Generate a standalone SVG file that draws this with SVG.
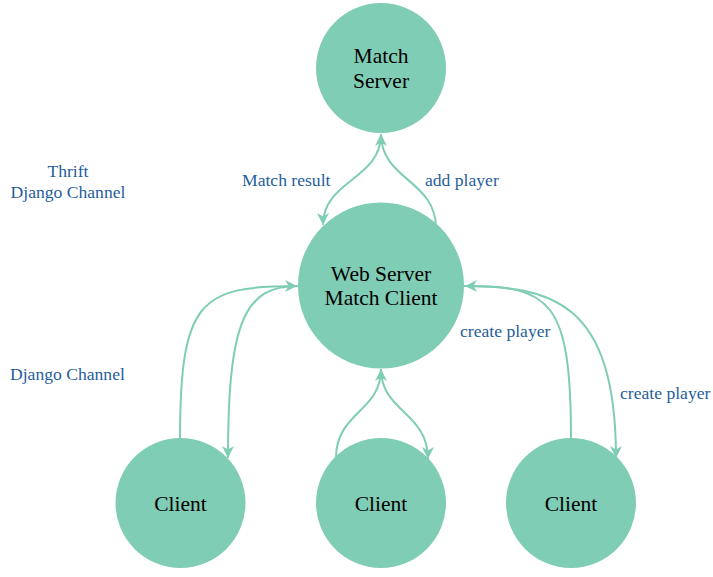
<svg xmlns="http://www.w3.org/2000/svg" width="713" height="577" viewBox="0 0 713 577">
<style>
.node{fill:#80cdb6;}
.ntext{font-family:'Liberation Serif','Times New Roman',serif;font-size:21.5px;fill:#000;text-anchor:middle;}
.link{fill:none;stroke:#80cdb6;stroke-width:2;}
.lbl{font-family:'Liberation Serif','Times New Roman',serif;font-size:17.6px;fill:#1f5e9c;}
</style>
<defs>
<marker id="arrow" viewBox="0 -5 10 10" refX="10" refY="0" markerWidth="12" markerHeight="12" markerUnits="userSpaceOnUse" orient="auto">
<path d="M0,-5L10,0L0,5L3,0Z" fill="#80cdb6"/>
</marker>
</defs>
<rect width="713" height="577" fill="#fff"/>
<g id="connectors">
<path class="link" d="M436,228 C436,180 381,180 381,134" marker-end="url(#arrow)"/>
<path class="link" d="M381,134 C381,180 323,180 323,225" marker-end="url(#arrow)"/>
<path class="link" d="M180,440 C180,300 200,286 297,286" marker-end="url(#arrow)"/>
<path class="link" d="M298,286 C245,286 228,320 228,458" marker-end="url(#arrow)"/>
<path class="link" d="M336,458 C336,412 381,412 381,369" marker-end="url(#arrow)"/>
<path class="link" d="M381,369 C381,412 428,412 428,459" marker-end="url(#arrow)"/>
<path class="link" d="M571,440 C571,300 551,286 465,286" marker-end="url(#arrow)"/>
<path class="link" d="M464,286 C550,286 616,300 616,458" marker-end="url(#arrow)"/>
</g>
<g id="labels">
<text class="lbl" x="68" y="177" text-anchor="middle">Thrift</text>
<text class="lbl" x="68" y="198" text-anchor="middle">Django Channel</text>
<text class="lbl" x="10" y="380">Django Channel</text>
<text class="lbl" x="242" y="186">Match result</text>
<text class="lbl" x="425" y="186">add player</text>
<text class="lbl" x="460" y="337">create player</text>
<text class="lbl" x="620" y="399">create player</text>
</g>
<g id="match-server">
<circle class="node" cx="381" cy="68" r="65"/>
<text class="ntext" x="381" y="63">Match</text>
<text class="ntext" x="381" y="88">Server</text>
</g>
<g id="web-server">
<circle class="node" cx="381" cy="285.5" r="83"/>
<text class="ntext" x="381" y="281">Web Server</text>
<text class="ntext" x="381" y="305">Match Client</text>
</g>
<g id="client-1">
<circle class="node" cx="180.5" cy="503" r="65"/>
<text class="ntext" x="180.5" y="511">Client</text>
</g>
<g id="client-2">
<circle class="node" cx="381" cy="503" r="65"/>
<text class="ntext" x="381" y="511">Client</text>
</g>
<g id="client-3">
<circle class="node" cx="571" cy="503" r="65"/>
<text class="ntext" x="571" y="511">Client</text>
</g>
</svg>
